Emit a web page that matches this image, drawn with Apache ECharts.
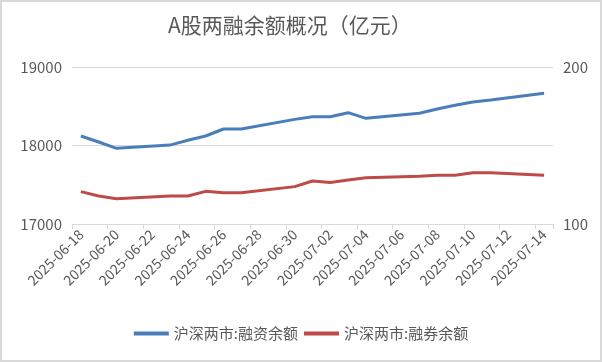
<!DOCTYPE html>
<html>
<head>
<meta charset="utf-8">
<script src="https://cdn.jsdelivr.net/npm/echarts@6/dist/echarts.min.js"></script>
<style>
html,body{margin:0;padding:0;background:#fff;}
#wrap{width:602px;height:362px;box-sizing:border-box;border:2px solid #d9d9d9;position:relative;}
#chart{position:absolute;left:-2px;top:-2px;width:602px;height:362px;}
</style>
</head>
<body>
<div id="wrap"><div id="chart"></div></div>
<script>
var titleText = 'A股两融余额概况（亿元）';
var categories = [
  '2025-06-18','2025-06-19','2025-06-20','2025-06-21','2025-06-22','2025-06-23','2025-06-24',
  '2025-06-25','2025-06-26','2025-06-27','2025-06-28','2025-06-29','2025-06-30','2025-07-01',
  '2025-07-02','2025-07-03','2025-07-04','2025-07-05','2025-07-06','2025-07-07','2025-07-08',
  '2025-07-09','2025-07-10','2025-07-11','2025-07-12','2025-07-13','2025-07-14'
];
var financingName = '沪深两市:融资余额';
var financing = [
  18121, 18045, 17964, null, null, 18005, 18066,
  18121, 18210, 18210, null, null, 18333, 18367,
  18367, 18418, 18346, null, null, 18410, 18465,
  18512, 18554, 18580, null, null, 18665
];
var lendingName = '沪深两市:融券余额';
var lending = [
  120.6, 117.8, 116.1, null, null, 117.8, 117.8,
  120.8, 119.9, 119.9, null, null, 123.8, 127.4,
  126.5, 128.0, 129.5, null, null, 130.4, 131.0,
  131.0, 132.7, 132.7, null, null, 131.0
];
var leftTicks = {min: 17000, max: 19000, interval: 1000};
var rightTicks = {min: 100, max: 200, interval: 100};

var FONT = '"Noto Sans CJK SC", "Noto Sans", sans-serif';
var chart = echarts.init(document.getElementById('chart'));
chart.setOption({
  animation: false,
  backgroundColor: 'transparent',
  title: {
    text: titleText,
    left: 163,
    top: 10,
    textStyle: {fontFamily: FONT, fontSize: 21, fontWeight: 'normal', color: '#595959'}
  },
  legend: {
    bottom: 16,
    left: 'center',
    itemWidth: 35,
    itemHeight: 4,
    itemGap: 6,
    icon: 'rect',
    textStyle: {fontFamily: FONT, fontSize: 15, color: '#595959'},
    data: [financingName, lendingName]
  },
  grid: {left: 72, right: 49, top: 67, bottom: 138, containLabel: false},
  xAxis: {
    type: 'category',
    data: categories,
    boundaryGap: true,
    axisLine: {lineStyle: {color: '#d9d9d9', width: 1}},
    axisTick: {show: true, interval: 1, length: 5, lineStyle: {color: '#d9d9d9'}},
    axisLabel: {interval: 1, rotate: 45, fontFamily: FONT, fontSize: 14, color: '#595959', margin: 8}
  },
  yAxis: [
    {
      type: 'value',
      min: leftTicks.min, max: leftTicks.max, interval: leftTicks.interval,
      axisLine: {show: false},
      axisTick: {show: false},
      splitLine: {lineStyle: {color: '#d9d9d9', width: 1}},
      axisLabel: {fontFamily: FONT, fontSize: 15, color: '#595959', margin: 10,
        formatter: function (v) { return String(v); }}
    },
    {
      type: 'value',
      min: rightTicks.min, max: rightTicks.max, interval: rightTicks.interval,
      axisLine: {show: false},
      axisTick: {show: false},
      splitLine: {show: false},
      axisLabel: {fontFamily: FONT, fontSize: 15, color: '#595959', margin: 10,
        formatter: function (v) { return String(v); }}
    }
  ],
  series: [
    {
      name: financingName, type: 'line', yAxisIndex: 0, data: financing,
      connectNulls: true, showSymbol: false, symbol: 'none',
      itemStyle: {color: '#4a7ebb'}, lineStyle: {color: '#4a7ebb', width: 3}
    },
    {
      name: lendingName, type: 'line', yAxisIndex: 1, data: lending,
      connectNulls: true, showSymbol: false, symbol: 'none',
      itemStyle: {color: '#be4b48'}, lineStyle: {color: '#be4b48', width: 3}
    }
  ]
});
</script>
</body>
</html>
